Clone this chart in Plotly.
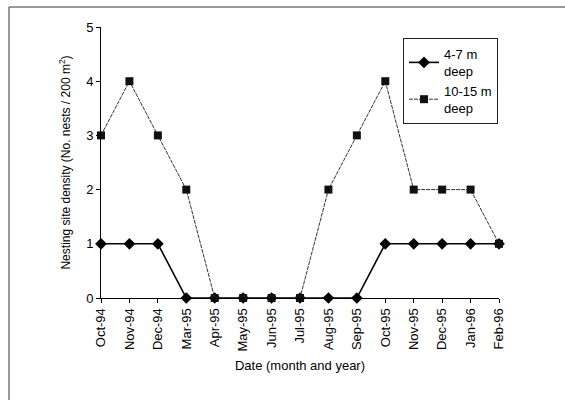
import plotly.graph_objects as go

# Sampling months and nest densities at the two depth ranges
months = ["Oct-94", "Nov-94", "Dec-94", "Mar-95", "Apr-95", "May-95", "Jun-95",
          "Jul-95", "Aug-95", "Sep-95", "Oct-95", "Nov-95", "Dec-95", "Jan-96", "Feb-96"]
shallow = [1, 1, 1, 0, 0, 0, 0, 0, 0, 0, 1, 1, 1, 1, 1]      # 4-7 m deep
deep = [3, 4, 3, 2, 0, 0, 0, 0, 2, 3, 4, 2, 2, 2, 1]         # 10-15 m deep
y_ticks = [0, 1, 2, 3, 4, 5]

FONT = "Liberation Sans, Arial, sans-serif"
idx = list(range(len(months)))

# Plot area in pixels: x 101..499, y 27..298
PL, PR, PT, PB = 101, 499, 27, 298
PW, PH = PR - PL, PB - PT

fig = go.Figure()
fig.add_trace(go.Scatter(
    x=idx, y=shallow, name="4-7 m<br>deep", mode="lines+markers",
    line=dict(color="black", width=1.6),
    marker=dict(symbol="diamond", size=9, color="black"),
    cliponaxis=False,
))
fig.add_trace(go.Scatter(
    x=idx, y=deep, name="10-15 m<br>deep", mode="lines+markers",
    line=dict(color="#333333", width=1, dash="4px,1px"),
    marker=dict(symbol="square", size=8, color="#111111"),
    cliponaxis=False,
))

fig.update_layout(
    width=565, height=400,
    margin=dict(l=PL, r=565 - PR, t=PT, b=400 - PB),
    paper_bgcolor="white", plot_bgcolor="white",
    font=dict(family=FONT, color="black", size=12),
    showlegend=True,
    legend=dict(
        x=(403 - PL) / PW, y=(PB - 38) / PH, xref="paper", yref="paper",
        xanchor="left", yanchor="top",
        bordercolor="#222222", borderwidth=1, bgcolor="white",
        font=dict(size=13), tracegroupgap=0, itemwidth=30,
    ),
    xaxis=dict(
        range=[0, 14], tickmode="array", tickvals=idx, ticktext=months,
        tickangle=-90, showgrid=False, zeroline=False,
        showline=True, linecolor="black", linewidth=1,
        ticks="outside", ticklen=4, tickcolor="black",
        tickfont=dict(size=13),
        title=dict(text="Date (month and year)", font=dict(size=13), standoff=10),
    ),
    yaxis=dict(
        range=[0, 5], tickmode="array", tickvals=y_ticks,
        showgrid=False, zeroline=False,
        showline=True, linecolor="black", linewidth=1,
        ticks="outside", ticklen=4, tickcolor="black",
        tickfont=dict(size=13),
        title=dict(text="Nesting site density (No. nests / 200 m<sup>2</sup>)",
                   font=dict(size=12), standoff=12),
    ),
)

# Frame lines along the top and left of the figure
fig.add_shape(type="line", xref="paper", yref="paper",
              x0=(9 - PL) / PW, x1=1.2, y0=(PB - 7) / PH, y1=(PB - 7) / PH,
              line=dict(color="#333333", width=1))
fig.add_shape(type="line", xref="paper", yref="paper",
              x0=(9 - PL) / PW, x1=(9 - PL) / PW, y0=(PB - 7) / PH, y1=-0.4,
              line=dict(color="#333333", width=1))

fig.write_html("out.html")
